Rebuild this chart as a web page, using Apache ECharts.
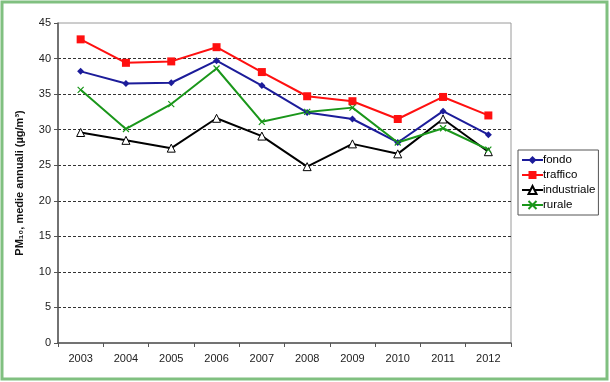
<!DOCTYPE html>
<html><head><meta charset="utf-8">
<script src="https://cdn.jsdelivr.net/npm/echarts@6/dist/echarts.min.js"></script>
<style>html,body{margin:0;padding:0;background:#fff}#c{width:610px;height:382px}</style>
</head><body><div id="c"></div>
<script>
const years = ['2003','2004','2005','2006','2007','2008','2009','2010','2011','2012'];
const fondo = [38.2, 36.5, 36.6, 39.7, 36.2, 32.4, 31.5, 28.2, 32.6, 29.3];
const traffico = [42.7, 39.4, 39.6, 41.6, 38.1, 34.7, 34.0, 31.5, 34.6, 32.0];
const industriale = [29.6, 28.5, 27.4, 31.6, 29.1, 24.8, 28.0, 26.6, 31.5, 26.9];
const rurale = [35.6, 30.1, 33.6, 38.6, 31.1, 32.5, 33.1, 28.2, 30.2, 27.2];
const yTicks = [0, 5, 10, 15, 20, 25, 30, 35, 40, 45];

const chart = echarts.init(document.getElementById('c'), null, {renderer:'canvas'});
const font = 'Liberation Sans, Arial, sans-serif';
function mk(name, data, color, symbol, size, extra) {
  return Object.assign({
    name, type:'line', data, symbol, symbolSize:size,
    lineStyle:{color, width:2}, itemStyle:{color},
    emphasis:{disabled:true}, animation:false
  }, extra||{});
}
chart.setOption({
  animation:false,
  textStyle:{fontFamily:font},
  graphic:[{type:'rect', shape:{x:2, y:2, width:605, height:377}, style:{fill:null, stroke:'#80c080', lineWidth:3}, z:-1}],
  grid:{left:58, right:99, top:23, bottom:39, show:true, borderColor:'#9a9a9a', borderWidth:1},
  legend:{
    orient:'vertical', left:518, top:150, padding:[4,3,4,3], itemGap:3,
    itemWidth:21, itemHeight:10, borderColor:'#555', borderWidth:1, backgroundColor:'#fff',
    textStyle:{fontSize:11.5, color:'#000', fontFamily:font, padding:[0,0,0,-5]},
    data:['fondo','traffico','industriale','rurale']
  },
  xAxis:{
    type:'category', data:years, boundaryGap:true,
    axisLine:{lineStyle:{color:'#555', width:1.5}},
    axisTick:{show:true, length:4, lineStyle:{color:'#555'}},
    axisLabel:{fontSize:11, color:'#222', margin:10, fontFamily:font}
  },
  yAxis:{
    type:'value', min:yTicks[0], max:yTicks[yTicks.length-1], interval:5,
    name:'PM₁₀, medie annuali (µg/m³)', nameLocation:'middle', nameGap:33,
    nameTextStyle:{fontSize:11, fontWeight:'bold', color:'#111', fontFamily:font},
    axisLine:{show:true, lineStyle:{color:'#555', width:1.5}},
    axisTick:{show:true, length:4, lineStyle:{color:'#555'}},
    axisLabel:{fontSize:11, color:'#222', margin:7, fontFamily:font},
    splitLine:{show:true, showMinLine:false, showMaxLine:false, lineStyle:{color:'#333', type:[3,2], width:1}}
  },
  series:[
    mk('fondo', fondo, '#1c1c9a', 'diamond', 7),
    mk('traffico', traffico, '#ff1010', 'rect', 8),
    mk('industriale', industriale, '#000000', 'triangle', 8, {itemStyle:{color:'#fff', borderColor:'#000', borderWidth:1}}),
    mk('rurale', rurale, '#1a961a', 'path://M0,0L10,10M10,0L0,10', 6, {itemStyle:{color:'#1a961a', borderColor:'#1a961a', borderWidth:1.2}})
  ]
});
</script></body></html>
